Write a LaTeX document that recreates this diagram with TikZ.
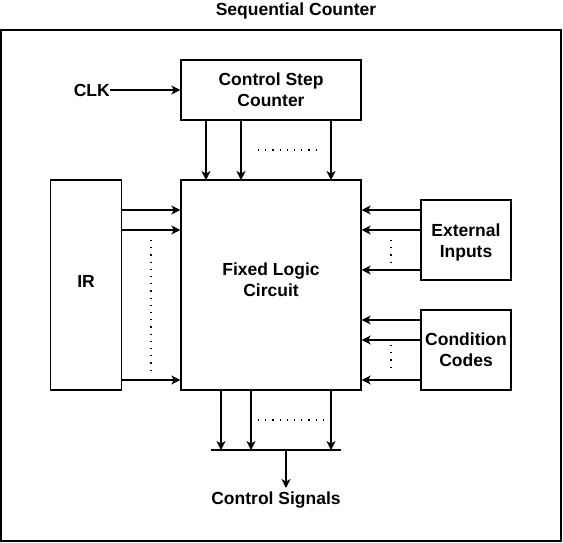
\documentclass[tikz,border=0pt]{standalone}
\usepackage{fontspec}
\setmainfont{Liberation Sans}
\usetikzlibrary{arrows.meta}
\begin{document}
\begin{tikzpicture}[x=1pt,y=-1pt,
  box/.style={draw, line width=1.3pt, inner sep=0pt, align=center, font=\bfseries\fontsize{17.5}{21}\selectfont},
  lbl/.style={inner sep=0pt, align=center, font=\bfseries\fontsize{17.5}{21}\selectfont},
  arr/.style={line width=1.3pt, -{Stealth[length=9pt,width=9pt,inset=2.5pt]}},
  wire/.style={line width=1.3pt},
  dots/.style={line width=1.2pt, dash pattern=on 1.2pt off 6pt, line cap=butt}]
\useasboundingbox (0,0) rectangle (563,543);
\node[box, minimum width=560pt, minimum height=511pt] (outer) at (281,285.5) {};
\node[lbl] (title) at (296,11) {Sequential Counter};
\node[box, minimum width=180pt, minimum height=60pt] (csc) at (271,90) {Control Step\\Counter};
\node[box, minimum width=180pt, minimum height=210pt] (flc) at (271,285) {};
\node[lbl] (flcT) at (271,280) {Fixed Logic\\Circuit};
\node[box, minimum width=71pt, minimum height=210pt] (ir) at (86,285) {};
\node[lbl] (irT) at (86,281) {IR};
\node[box, minimum width=90pt, minimum height=80pt] (ext) at (466,240) {};
\node[lbl] (extT) at (466,242.5) {External\\Inputs};
\node[box, minimum width=90pt, minimum height=80pt] (cc) at (466,350) {Condition\\Codes};
\node[lbl, anchor=east] (clk) at (110,90) {CLK};
\node[lbl] (cs) at (276,500) {Control Signals};
\coordinate (busL) at (211,450);
\coordinate (busR) at (341,450);
\coordinate (busM) at (286,450);
\coordinate (sigEnd) at (286,488);
% CLK
\draw[arr] (clk.east) -- (csc.west);
% CSC -> FLC
\foreach \x in {206,241,331} \draw[arr] (\x,120) -- (\x,180);
\draw[dots] (258,150) -- (318,150);
% IR -> FLC
\foreach \y in {210,230,380} \draw[arr] (ir.east |- 0,\y) -- (flc.west |- 0,\y);
\draw[dots] (151,240) -- (151,372);
% EXT -> FLC
\foreach \y in {210,230,270} \draw[arr] (ext.west |- 0,\y) -- (flc.east |- 0,\y);
\draw[dots] (391,240) -- (391,268);
% CC -> FLC
\foreach \y in {320,340,380} \draw[arr] (cc.west |- 0,\y) -- (flc.east |- 0,\y);
\draw[dots] (391,345) -- (391,373);
% FLC -> bus
\foreach \x in {221,251,331} \draw[arr] (\x,390) -- (\x,450);
\draw[dots] (258,420) -- (324,420);
\draw[wire] (busL) -- (busR);
\draw[arr] (busM) -- (sigEnd);
\end{tikzpicture}
\end{document}
